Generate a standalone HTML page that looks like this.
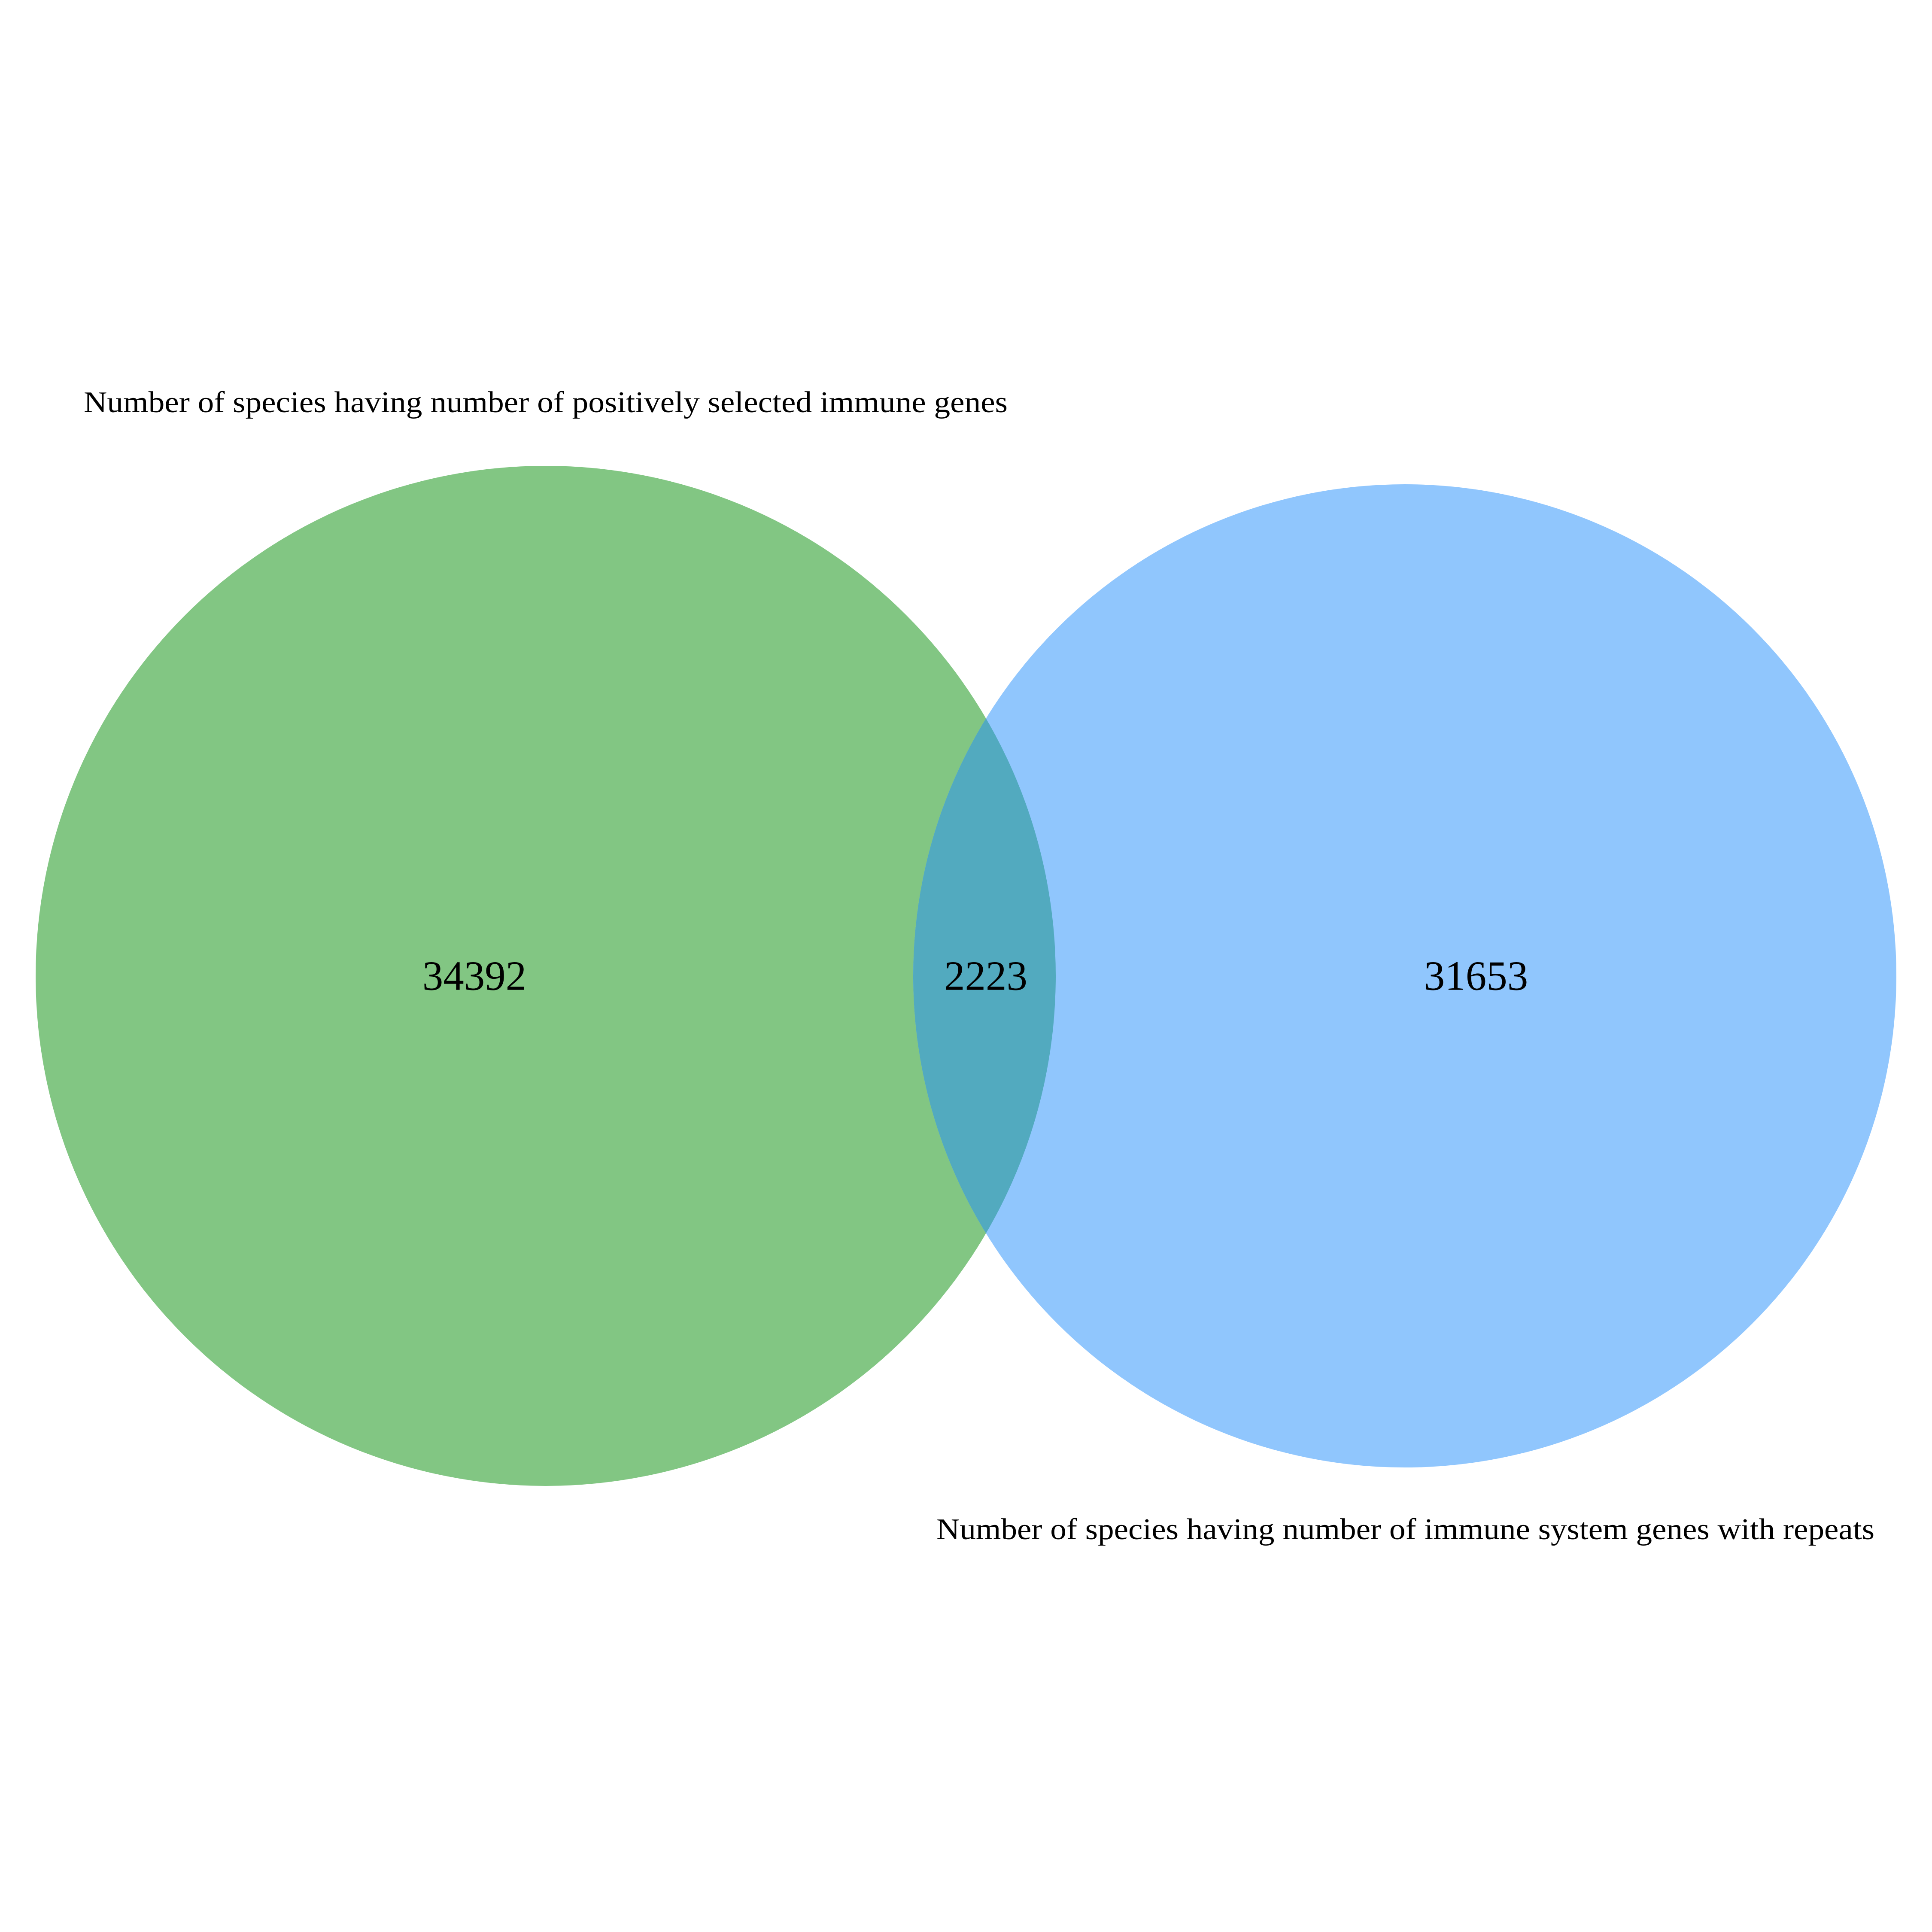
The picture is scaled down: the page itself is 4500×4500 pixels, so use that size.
<!DOCTYPE html>
<html>
<head>
<meta charset="utf-8">
<style>
html,body{margin:0;padding:0;background:#fff;}
svg{display:block;}
text{font-family:"Liberation Serif",serif;fill:#000;}
</style>
</head>
<body>
<svg id="chart" width="4500" height="4500" viewBox="0 0 4500 4500" xmlns="http://www.w3.org/2000/svg">
<defs>
<clipPath id="clipA"><circle cx="1271" cy="2273" r="1188"/></clipPath>
</defs>
<circle cx="1271" cy="2273" r="1188" fill="#82c683"/>
<circle cx="3272" cy="2273" r="1145" fill="#90c6fd"/>
<circle cx="3272" cy="2273" r="1145" fill="#52aabf" clip-path="url(#clipA)"/>
<g id="labels"></g>
</svg>
<script>
const regionNames = ["only-a", "both", "only-b"];
const regionCounts = [34392, 2223, 31653];
const setLabels = ["Number of species having number of positively selected immune genes", "Number of species having number of immune system genes with repeats"];

const NS = "http://www.w3.org/2000/svg";
const g = document.getElementById("labels");
const countX = [1105, 2296, 3438];
regionCounts.forEach((v, i) => {
  const t = document.createElementNS(NS, "text");
  t.setAttribute("x", countX[i]);
  t.setAttribute("y", 2273);
  t.setAttribute("text-anchor", "middle");
  t.setAttribute("dominant-baseline", "central");
  t.setAttribute("font-size", "97");
  t.textContent = String(v);
  
  
  g.appendChild(t);
});
const labelPos = [[195, 960, 2152], [2181, 3585, 2185]];
setLabels.forEach((s, i) => {
  const t = document.createElementNS(NS, "text");
  t.setAttribute("x", labelPos[i][0]);
  t.setAttribute("y", labelPos[i][1]);
  t.setAttribute("font-size", "70");
  t.setAttribute("textLength", labelPos[i][2]);
  t.setAttribute("lengthAdjust", "spacingAndGlyphs");
  t.textContent = s;
  
  
  g.appendChild(t);
});
</script>
</body>
</html>
